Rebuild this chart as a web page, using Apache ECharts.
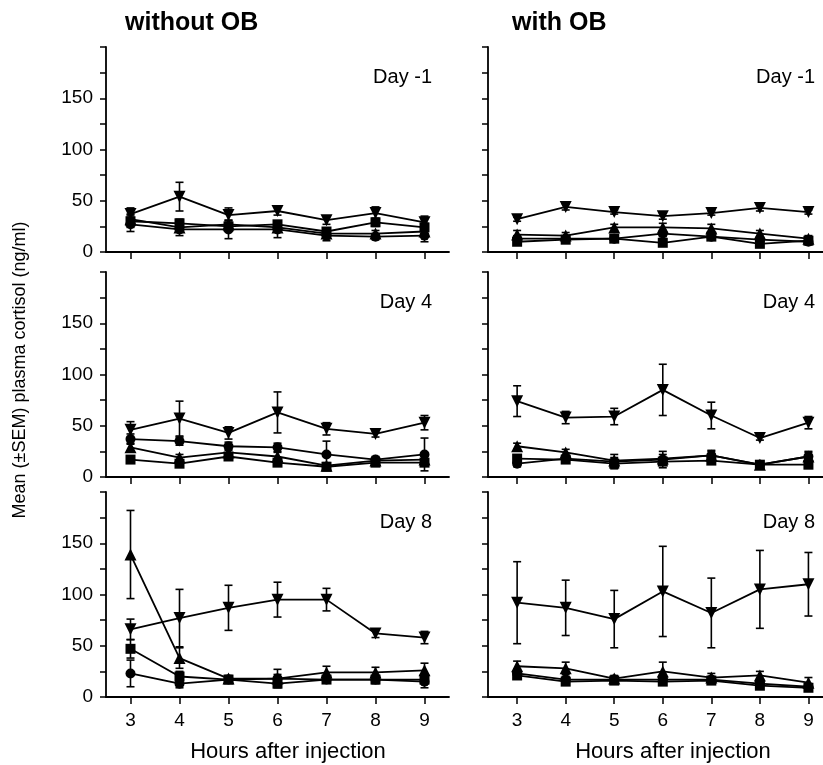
<!DOCTYPE html>
<html>
<head>
<meta charset="utf-8">
<script src="https://cdn.jsdelivr.net/npm/echarts@6/dist/echarts.min.js"></script>
<style>html,body{margin:0;padding:0;background:#fff}#chart{width:823px;height:765px}</style>
</head>
<body>
<div id="chart"></div>
<script>
var hours = [3, 4, 5, 6, 7, 8, 9];
var yTicks = [0, 50, 100, 150];
var colTitles = ['without OB', 'with OB'];
var dayLabels = ['Day -1', 'Day 4', 'Day 8'];

// without OB, Day -1
var nM1Circle = [27, 22, 22, 22, 16, 15, 16], nM1CircleErr = [7, 6, 9, 8, 5, 3, 6];
var nM1Square = [30, 28, 25, 27, 20, 29, 24], nM1SquareErr = [6, 4, 4, 3, 3, 4, 4];
var nM1Up     = [32, 24, 27, 24, 18, 18, 20], nM1UpErr     = [5, 4, 4, 4, 3, 3, 4];
var nM1Down   = [37, 54, 36, 40, 31, 38, 29], nM1DownErr   = [6, 14, 7, 4, 4, 6, 6];
// with OB, Day -1
var wM1Circle = [13, 13, 13, 18, 15, 12, 10], wM1CircleErr = [3, 2, 2, 3, 3, 2, 2];
var wM1Square = [10, 12, 13, 9, 15, 8, 11],   wM1SquareErr = [3, 2, 2, 2, 3, 3, 2];
var wM1Up     = [17, 16, 24, 24, 23, 18, 13], wM1UpErr     = [4, 3, 3, 4, 4, 3, 3];
var wM1Down   = [32, 44, 39, 35, 38, 43, 39], wM1DownErr   = [2, 3, 2, 3, 2, 3, 2];
// without OB, Day 4
var n4Circle = [37, 35, 30, 29, 22, 17, 22], n4CircleErr = [5, 4, 4, 4, 13, 3, 16];
var n4Square = [17, 13, 20, 14, 10, 14, 14], n4SquareErr = [3, 3, 3, 3, 3, 3, 3];
var n4Up     = [29, 19, 24, 20, 11, 16, 17], n4UpErr     = [4, 3, 3, 4, 3, 3, 4];
var n4Down   = [46, 57, 43, 63, 47, 42, 53], n4DownErr   = [8, 17, 6, 20, 6, 3, 7];
// with OB, Day 4
var w4Circle = [13, 18, 15, 17, 21, 12, 20], w4CircleErr = [3, 3, 7, 8, 5, 2, 5];
var w4Square = [18, 17, 13, 15, 16, 12, 12], w4SquareErr = [3, 3, 3, 3, 3, 2, 3];
var w4Up     = [30, 24, 16, 18, 21, 12, 20], w4UpErr     = [3, 3, 3, 4, 4, 2, 4];
var w4Down   = [74, 58, 59, 85, 60, 38, 53], w4DownErr   = [15, 6, 8, 25, 13, 2, 6];
// without OB, Day 8
var n8Circle = [23, 13, 17, 18, 17, 17, 15],   n8CircleErr = [13, 4, 3, 4, 3, 3, 6];
var n8Square = [47, 20, 17, 13, 17, 17, 17],   n8SquareErr = [9, 5, 3, 3, 3, 4, 4];
var n8Up     = [139, 38, 18, 18, 24, 24, 26],  n8UpErr     = [43, 10, 3, 9, 6, 5, 7];
var n8Down   = [66, 77, 87, 95, 95, 62, 58],   n8DownErr   = [10, 28, 22, 17, 11, 4, 6];
// with OB, Day 8
var w8Circle = [23, 17, 17, 17, 17, 13, 10],    w8CircleErr = [4, 3, 3, 3, 3, 3, 3];
var w8Square = [21, 15, 16, 15, 16, 11, 9],     w8SquareErr = [3, 3, 3, 3, 3, 3, 3];
var w8Up     = [30, 28, 18, 25, 19, 21, 14],    w8UpErr     = [5, 6, 3, 9, 4, 4, 5];
var w8Down   = [92, 87, 76, 103, 82, 105, 110], w8DownErr   = [40, 27, 28, 44, 34, 38, 31];

// panel order: row by row, left (without OB) then right (with OB)
var panels = [
    [[nM1Circle, nM1CircleErr], [nM1Square, nM1SquareErr], [nM1Up, nM1UpErr], [nM1Down, nM1DownErr]],
    [[wM1Circle, wM1CircleErr], [wM1Square, wM1SquareErr], [wM1Up, wM1UpErr], [wM1Down, wM1DownErr]],
    [[n4Circle, n4CircleErr], [n4Square, n4SquareErr], [n4Up, n4UpErr], [n4Down, n4DownErr]],
    [[w4Circle, w4CircleErr], [w4Square, w4SquareErr], [w4Up, w4UpErr], [w4Down, w4DownErr]],
    [[n8Circle, n8CircleErr], [n8Square, n8SquareErr], [n8Up, n8UpErr], [n8Down, n8DownErr]],
    [[w8Circle, w8CircleErr], [w8Square, w8SquareErr], [w8Up, w8UpErr], [w8Down, w8DownErr]]
];
var marks = [
    {symbol: 'circle', size: 10, rotate: 0},
    {symbol: 'rect', size: 10, rotate: 0},
    {symbol: 'triangle', size: 12, rotate: 0},
    {symbol: 'triangle', size: 12, rotate: 180}
];

var FONT = '"Liberation Sans", Arial, sans-serif';
var rowTop = [47, 272, 492];
var grids = [], xAxes = [], yAxes = [], series = [];

panels.forEach(function (panel, i) {
    var row = Math.floor(i / 2), right = i % 2 === 1;
    grids.push({
        left: right ? 488 : 106,
        width: right ? 336 : 343,
        top: rowTop[row],
        height: 205
    });
    xAxes.push({
        gridIndex: i,
        type: 'value',
        min: right ? 2.4 : 2.5,
        max: right ? 9.3 : 9.5,
        axisLine: {lineStyle: {color: '#000', width: 1.8}},
        axisTick: {customValues: hours, length: 7, lineStyle: {color: '#000', width: 1.5}},
        axisLabel: {show: row === 2, customValues: hours, color: '#000', fontSize: 19, fontFamily: FONT, margin: 14},
        splitLine: {show: false}
    });
    yAxes.push({
        gridIndex: i,
        type: 'value',
        min: 0,
        max: 200,
        interval: 50,
        axisLine: {show: true, lineStyle: {color: '#000', width: 1.8}},
        axisTick: {show: true, length: 6, lineStyle: {color: '#000', width: 1.5}},
        minorTick: {show: true, splitNumber: 2, length: 6, lineStyle: {color: '#000', width: 1.5}},
        axisLabel: {
            show: !right, color: '#000', fontSize: 19, fontFamily: FONT, margin: 13,
            formatter: function (v) { return yTicks.indexOf(v) >= 0 ? String(v) : ''; }
        },
        splitLine: {show: false}
    });
    panel.forEach(function (s, k) {
        var mean = s[0], err = s[1];
        series.push({
            type: 'custom',
            xAxisIndex: i,
            yAxisIndex: i,
            z: 2,
            silent: true,
            data: hours.map(function (h, j) { return [h, mean[j] - err[j], mean[j] + err[j]]; }),
            renderItem: function (params, api) {
                var x = api.value(0);
                var lo = api.coord([x, api.value(1)]);
                var hi = api.coord([x, api.value(2)]);
                var w = 4, st = {stroke: '#000', lineWidth: 1.6};
                return {
                    type: 'group',
                    children: [
                        {type: 'line', shape: {x1: lo[0], y1: lo[1], x2: hi[0], y2: hi[1]}, style: st},
                        {type: 'line', shape: {x1: lo[0] - w, y1: lo[1], x2: lo[0] + w, y2: lo[1]}, style: st},
                        {type: 'line', shape: {x1: hi[0] - w, y1: hi[1], x2: hi[0] + w, y2: hi[1]}, style: st}
                    ]
                };
            }
        });
        series.push({
            type: 'line',
            xAxisIndex: i,
            yAxisIndex: i,
            z: 3,
            data: hours.map(function (h, j) { return [h, mean[j]]; }),
            symbol: marks[k].symbol,
            symbolSize: marks[k].size,
            symbolRotate: marks[k].rotate,
            showAllSymbol: true,
            lineStyle: {color: '#000', width: 1.8},
            itemStyle: {color: '#000'}
        });
    });
});

var textStyle = function (size, bold) {
    return {fill: '#000', font: (bold ? 'bold ' : '') + size + 'px ' + FONT};
};
var centered = {align: 'center', verticalAlign: 'middle', textAlign: 'center', textVerticalAlign: 'middle'};
var graphics = [
    {type: 'text', left: 125, top: 11, style: Object.assign({text: colTitles[0]}, textStyle(25, true))},
    {type: 'text', left: 512, top: 11, style: Object.assign({text: colTitles[1]}, textStyle(25, true))},
    {type: 'text', x: 20, y: 370, rotation: Math.PI / 2,
        style: Object.assign({text: 'Mean (\u00b1SEM) plasma cortisol (ng/ml)'}, centered, textStyle(18, false))},
    {type: 'text', x: 288, y: 752, style: Object.assign({text: 'Hours after injection'}, centered, textStyle(22, false))},
    {type: 'text', x: 673, y: 752, style: Object.assign({text: 'Hours after injection'}, centered, textStyle(22, false))}
];
dayLabels.forEach(function (d, row) {
    [432, 815].forEach(function (xr) {
        graphics.push({type: 'text', x: xr, y: rowTop[row] + 30,
            style: Object.assign({text: d, align: 'right', verticalAlign: 'middle', textAlign: 'right', textVerticalAlign: 'middle'}, textStyle(20, false))});
    });
});

var chart = echarts.init(document.getElementById('chart'));
chart.setOption({
    animation: false,
    backgroundColor: '#fff',
    grid: grids,
    xAxis: xAxes,
    yAxis: yAxes,
    series: series,
    graphic: graphics
});
</script>
</body>
</html>
